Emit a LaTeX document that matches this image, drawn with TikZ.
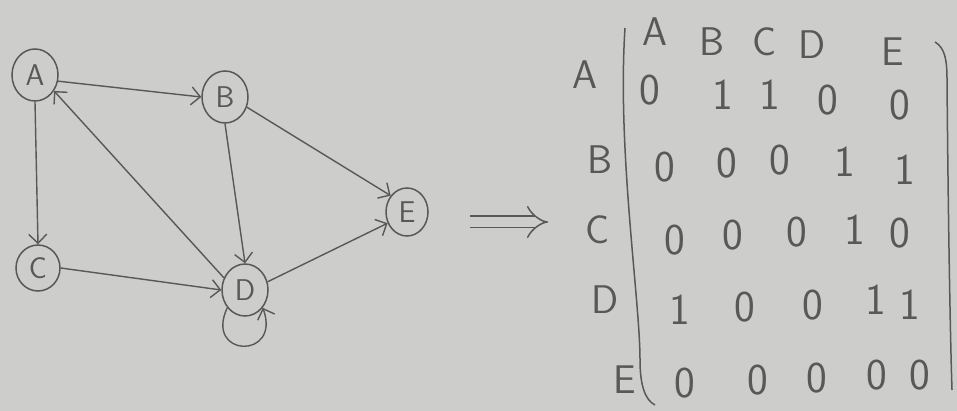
\documentclass[tikz,border=0pt]{standalone}
\usepackage{amsmath}
\usepackage{xcolor}
\usepackage{tikz}
\usetikzlibrary{arrows.meta,shapes.geometric}

\definecolor{paper}{RGB}{205,205,203}
\definecolor{pencil}{RGB}{88,88,88}

\tikzset{
  vertex/.style={draw=pencil, ellipse, line width=1.5pt, minimum width=46pt,
    minimum height=52pt, inner sep=0pt, text=pencil,
    font=\sffamily\fontsize{30}{30}\selectfont},
  edge/.style={draw=pencil, line width=1.4pt,
    -{Straight Barb[length=9pt,width=18pt,line width=1.4pt]}},
  hdr/.style={text=pencil, font=\sffamily\fontsize{40}{40}\selectfont},
  entry/.style={text=pencil, font=\sffamily\fontsize{44}{44}\selectfont}
}

\begin{document}
\begin{tikzpicture}[x=1pt, y=-1pt]
    \fill[paper] (0,0) rectangle (957,411);
    \useasboundingbox (0,0) rectangle (957,411);

    % the graph
    \node[vertex] (A) at (35,75) {A};
    \node[vertex] (B) at (225,97) {B};
    \node[vertex, minimum width=44pt, minimum height=46pt] (C) at (38,268) {C};
    \node[vertex] (D) at (245,290) {D};
    \node[vertex, minimum width=42pt, minimum height=48pt] (E) at (407,212) {E};

    \draw[edge] (A.-15) -- (B.west);
    \draw[edge] (A.south) -- (C.north);
    \draw[edge] (B.south) -- (D.north);
    \draw[edge] (B.-25) -- (E.135);
    \draw[edge] (C.east) -- (D.west);
    \draw[edge] (D.150) -- (A.-40);
    \draw[edge] (D.20) -- (E.-150);
    \draw[edge] (D.225) to[out=245, in=290, looseness=4, min distance=48pt] (D.315);

    % implies
    \coordinate (ia) at (470,222);
    \coordinate (ib) at (548,222);
    \draw[pencil, line width=1.5pt, double=paper, double distance=10pt,
      -{Implies[length=10pt]}] (ia) -- (ib);

    % the matrix
    \node[hdr] (rA) at (585,75) {A};
    \node[hdr] (rB) at (600,160) {B};
    \node[hdr] (rC) at (598,230) {C};
    \node[hdr] (rD) at (605,300) {D};
    \node[hdr] (rE) at (625,380) {E};

    \node[hdr] (cA) at (655,32) {A};
    \node[hdr] (cB) at (712,42) {B};
    \node[hdr] (cC) at (765,42) {C};
    \node[hdr] (cD) at (812,45) {D};
    \node[hdr] (cE) at (893,52) {E};

    \foreach \v/\x/\y [count=\i] in {
        0/650/90, 1/723/95, 1/770/95, 0/828/100, 0/900/105,
        0/665/167, 0/727/163, 0/780/160, 1/845/162, 1/905/170,
        0/675/240, 0/733/235, 0/797/232, 1/855/230, 0/900/233,
        1/680/310, 0/745/307, 0/813/305, 1/876/300, 1/910/305,
        0/685/383, 0/758/380, 0/817/378, 0/877/375, 0/920/375}
      \node[entry] (m\i) at (\x,\y) {\v};

    \draw[pencil, line width=1.5pt] (625,28) .. controls (617,150) and (640,300) .. (640,360)
      .. controls (640,385) and (645,400) .. (655,405);
    \draw[pencil, line width=1.5pt] (935,42) .. controls (945,48) and (947,60) .. (947,80)
      .. controls (948,200) and (950,330) .. (952,390);
\end{tikzpicture}
\end{document}
